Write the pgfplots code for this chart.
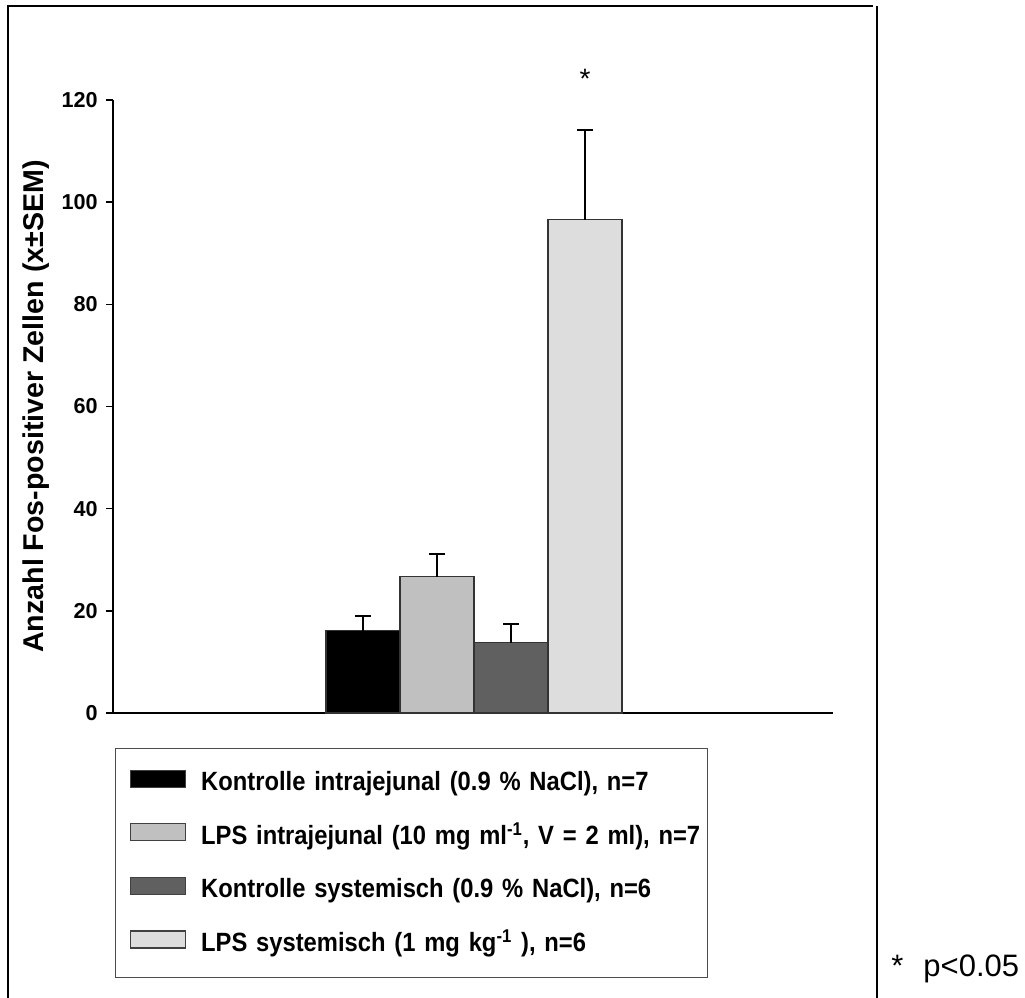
\documentclass[border=0pt]{standalone}
\usepackage{fontspec}
\setmainfont{Liberation Sans}
\newfontfamily\legfont[FakeStretch=0.9]{Liberation Sans}
\usepackage{pgfplots}
\pgfplotsset{compat=1.18}

\definecolor{barA}{HTML}{000000}
\definecolor{barB}{HTML}{C0C0C0}
\definecolor{barC}{HTML}{606060}
\definecolor{barD}{HTML}{DDDDDD}

\pgfplotsset{
  swatch/.style={legend image code/.code={
    \path[draw=none,fill=none] (0pt,0pt) -- (35pt,0pt);
    \draw[##1,draw=black!75,line width=0.6pt] (7.5pt,1.75pt) rectangle (35pt,10.25pt);}},
  barstyle/.style={draw=black!80, line width=0.6pt, fill=#1, swatch},
}

\begin{document}
\begin{tikzpicture}
\path[use as bounding box] (0,0) rectangle (512.5pt,499pt);
% frame
\draw[line width=1pt] (4.15pt,0pt) -- (4.15pt,495.75pt) -- (436.5pt,495.75pt);
\draw[line width=1.2pt] (438.5pt,0pt) -- (438.5pt,496pt);
\begin{axis}[
  at={(56.5pt,142.5pt)}, anchor=south west,
  scale only axis, width=360pt, height=306.5pt,
  xmin=0, xmax=720, ymin=0, ymax=120,
  clip=false,
  axis x line*=bottom, axis y line*=left,
  axis line style={line width=0.8pt, -},
  xtick=\empty,
  ytick={0,20,...,120},
  tick align=outside, major tick length=3.5pt,
  tick style={line width=0.8pt, black},
  /pgf/number format/assume math mode=true,
  yticklabel style={font=\bfseries\fontsize{10.8}{12}\selectfont, inner xsep=4pt},
  ylabel={Anzahl Fos-positiver Zellen (x±SEM)},
  ylabel style={at={(axis description cs:-0.0972,0.5)}, anchor=base,
    font=\bfseries\fontsize{14.3}{16}\selectfont},
  ybar=0pt, bar width=74,
  error bars/y dir=plus, error bars/y explicit,
  error bars/error bar style={line width=1pt, black},
  error bars/error mark options={rotate=90, line width=1pt, mark size=4pt, black},
  legend style={at={(0.00278,-0.0571)}, anchor=north west, draw=black!70, line width=0.6pt,
    inner xsep=0pt, inner ysep=9pt, row sep=10.8pt, column sep=7.5pt,
    font=\legfont\bfseries\fontsize{13.2}{15}\selectfont,
    nodes={inner sep=0pt, text height=12pt, text depth=4pt, text width=253pt, align=left},
    cells={anchor=base west}},
]
\addplot[barstyle=barA] coordinates {(361,16.1) +- (0,2.9)};
\addlegendentry{Kontrolle intrajejunal (0.9 \% NaCl), n=7}
\addplot[barstyle=barB] coordinates {(361,26.7) +- (0,4.4)};
\addlegendentry{LPS intrajejunal (10 mg ml\textsuperscript{-1}, V = 2 ml), n=7}
\addplot[barstyle=barC] coordinates {(361,13.8) +- (0,3.7)};
\addlegendentry{Kontrolle systemisch (0.9 \% NaCl), n=6}
\addplot[barstyle=barD] coordinates {(361,96.6) +- (0,17.5)};
\addlegendentry{LPS systemisch (1 mg kg\textsuperscript{-1} ), n=6}
\node[anchor=base, inner sep=0pt, font=\fontsize{14}{14}\selectfont] at (axis cs:472,122.2) {*};
\end{axis}
\node[anchor=base west, inner sep=0pt, font=\fontsize{15.5}{16}\selectfont] at (445.5pt,10.5pt) {*\hspace{10pt}p<0.05};
\end{tikzpicture}
\end{document}
